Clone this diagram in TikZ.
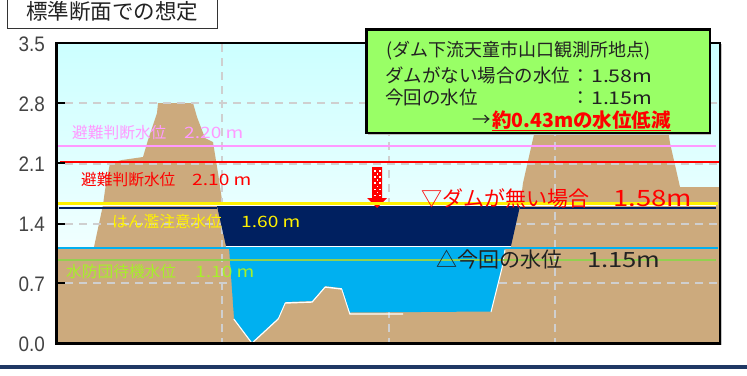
\documentclass[tikz,border=0pt]{standalone}
\usepackage{fontspec}
\usepackage{graphicx}
\setmainfont{Noto Sans CJK JP}
\newfontfamily\widefont[FakeStretch=1.22]{Noto Sans CJK JP}
\newfontfamily\axisfont{Liberation Sans}
\newcommand{\axnum}[1]{\scalebox{.9}[1]{#1}}
\definecolor{sky}{HTML}{CCFFFF}
\definecolor{skylow}{HTML}{F0FFFF}
\definecolor{ground}{HTML}{CCAA7D}
\definecolor{gridgray}{HTML}{CFCFCF}
\definecolor{water}{HTML}{00B0F0}
\definecolor{deepwater}{HTML}{002060}
\definecolor{pinkline}{HTML}{FF99FF}
\definecolor{greenline}{HTML}{92D050}
\definecolor{greentext}{HTML}{A6F02A}
\definecolor{boxgreen}{HTML}{99FF66}
\definecolor{barnavy}{HTML}{1F3864}
\definecolor{inktext}{HTML}{222222}
\tikzset{
  x=1pt,y=-1pt,
  gridline/.style={gridgray,line width=1.3pt,dash pattern=on 8pt off 6pt},
  levelline/.style={line width=2.8pt},
  tickmark/.style={black,line width=2.6pt},
  axislabel/.style={anchor=east,inner sep=0pt,text=inktext!85!white,font=\axisfont\fontsize{21}{21}\selectfont},
  lvl/.style={anchor=west,inner sep=0pt,font=\fontsize{15.7}{16}\selectfont},
  big/.style={anchor=west,inner sep=0pt,font=\fontsize{21}{21}\selectfont},
  boxtext/.style={anchor=west,inner sep=0pt,text=inktext,font=\fontsize{18.5}{19}\selectfont},
}
\begin{document}
\begin{tikzpicture}
\useasboundingbox (0,0) rectangle (747,375);
\fill[white] (0,0) rectangle (747,375);
% title
\node[draw=black!80,line width=1pt,fill=white,minimum width=210pt,minimum height=31pt,inner sep=0pt,anchor=north west,
      font=\fontsize{21.5}{21}\selectfont,text=inktext] (title) at (7,-3) {\raisebox{5.5pt}{標準断面での想定}};
% axis labels
\node[axislabel] (y35) at (45,44) {\axnum{3.5}};
\node[axislabel] (y28) at (45,104) {\axnum{2.8}};
\node[axislabel] (y21) at (45,164) {\axnum{2.1}};
\node[axislabel] (y14) at (45,224) {\axnum{1.4}};
\node[axislabel] (y07) at (45,284) {\axnum{0.7}};
\node[axislabel] (y00) at (45,344) {\axnum{0.0}};
% plot background
\fill[gray!45] (719,44) rectangle (722,345);
\shade[top color=sky,bottom color=skylow] (57,43) rectangle (719,247);
% ground
\fill[ground] (57,343) -- (57,247) -- (94,247) -- (103,205) -- (105,190) -- (110,163) -- (122,160) -- (143,157)
  -- (148,140) -- (157,113) -- (158,103) -- (193,103) -- (197,117) -- (205,138) -- (213,142) -- (218,173) -- (222,200)
  -- (229,247) -- (505,247) -- (520,206) -- (523,183) -- (535,130) -- (668,130) -- (670,143) -- (680,187) -- (719,187) -- (719,343) -- cycle;
% grid
\draw[gridline] (65,103) -- (718,103);
\draw[gridline] (65,164) -- (718,164);
\draw[gridline] (65,224) -- (718,224);
\draw[gridline] (65,283) -- (718,283);
\draw[gridline] (222,44) -- (222,342);
\draw[gridline] (389,44) -- (389,342);
\draw[gridline] (555,44) -- (555,342);
% water
\draw[white,line width=1.4pt] (234,319) -- (252,343) -- (278,319) -- (285,303) -- (312,302) -- (325,287) -- (342,289) -- (350,314) -- (403,314);
\fill[water] (229,247) -- (234,318) -- (252,342) -- (278,318) -- (285,302) -- (312,301) -- (325,286) -- (342,288)
  -- (350,312.5) -- (491,311.5) -- (502,268) -- (505,247) -- cycle;
\draw[white,line width=1pt] (491,312) -- (502,268) -- (505,250);
\fill[deepwater] (217,206) -- (226,246) -- (511,246) -- (520,206) -- cycle;
\draw[white,line width=.8pt] (59,205.3) -- (716,205.3);
\draw[white,line width=.8pt] (226,246.5) -- (511,246.5);
% drop arrow
\fill[red] (372,167) -- (382,167) -- (382,198) -- (387,198) -- (377,208) -- (367,198) -- (372,198) -- cycle;
\foreach \r in {0,2,4,6,8}{\fill[white] (379,{170+3.1*\r}) rectangle +(1.6,1.6);\fill[white] (374,{170+3.1*\r}) rectangle +(1.6,1.6);}
\foreach \r in {1,3,5,7}{\fill[white] (376.5,{170+3.1*\r}) rectangle +(1.6,1.6);}
% level lines
\draw[pinkline,levelline] (57,146) -- (716,146);
\draw[red,levelline] (60,162) -- (720,162);
\draw[yellow,line width=3pt] (57,203) -- (718,203);
\draw[deepwater,line width=1.6pt] (59,208) -- (217,208) (520,208) -- (716,208);
\draw[water,levelline] (58,248) -- (229,248) (505,248) -- (718,248);
\draw[greenline,levelline] (56,260) -- (716,260);
% frame and ticks
\draw[black,line width=2.6pt] (56.5,43) rectangle (720,343.5);
\draw[tickmark] (57,103) -- (65,103);
\draw[tickmark] (57,163) -- (65,163);
\draw[tickmark] (57,224) -- (65,224);
\draw[tickmark] (57,283) -- (65,283);
% level labels
\node[lvl,text=pinkline] (l220) at (72,133) {\makebox[112pt][l]{避難判断水位}{\widefont 2.20 m}};
\node[lvl,text=red] (l210) at (81,180) {\makebox[111pt][l]{避難判断水位}{\widefont 2.10 m}};
\node[lvl,text=yellow] (l160) at (112,222) {\makebox[129pt][l]{はん濫注意水位}{\widefont 1.60 m}};
\node[lvl,text=greentext] (l110) at (66,272) {\makebox[129pt][l]{水防団待機水位}{\widefont 1.10 m}};
\node[big,text=red] (noDam) at (421,198) {\makebox[192pt][l]{▽ダムが無い場合}{\fontsize{22.5}{22}\selectfont\widefont 1.58m}};
\node[big,text=inktext] (now) at (436,260) {\makebox[151pt][l]{△今回の水位}{\widefont 1.15m}};
% info box
\fill[gray!50] (367.5,30.5) rectangle (711,134.5);
\node[draw=black,line width=2.6pt,fill=boxgreen,anchor=north west,outer sep=0pt,minimum width=343.5pt,minimum height=103.5pt,inner sep=0pt] (info) at (366.5,29.5) {};
\node[boxtext,font=\fontsize{18}{19}\selectfont] (i1) at (386,51) {(ダム下流天童市山口観測所地点)};
\node[boxtext] (i2) at (385,75) {\makebox[186pt][l]{ダムがない場合の水位}\makebox[20pt][l]{：}{\fontsize{17.5}{19}\selectfont\widefont 1.58m}};
\node[boxtext] (i3) at (385,97) {\makebox[186pt][l]{今回の水位}\makebox[20pt][l]{：}{\fontsize{17.5}{19}\selectfont\widefont 1.15m}};
\node[boxtext] (i4a) at (472,121) {→};
\node[anchor=west,inner sep=0pt,text=red,font=\fontsize{19.5}{20}\selectfont\bfseries] (i4) at (492,121) {\underline{約0.43mの水位低減}};
% bottom bar
\fill[barnavy] (0,365) rectangle (747,369);
\end{tikzpicture}
\end{document}
